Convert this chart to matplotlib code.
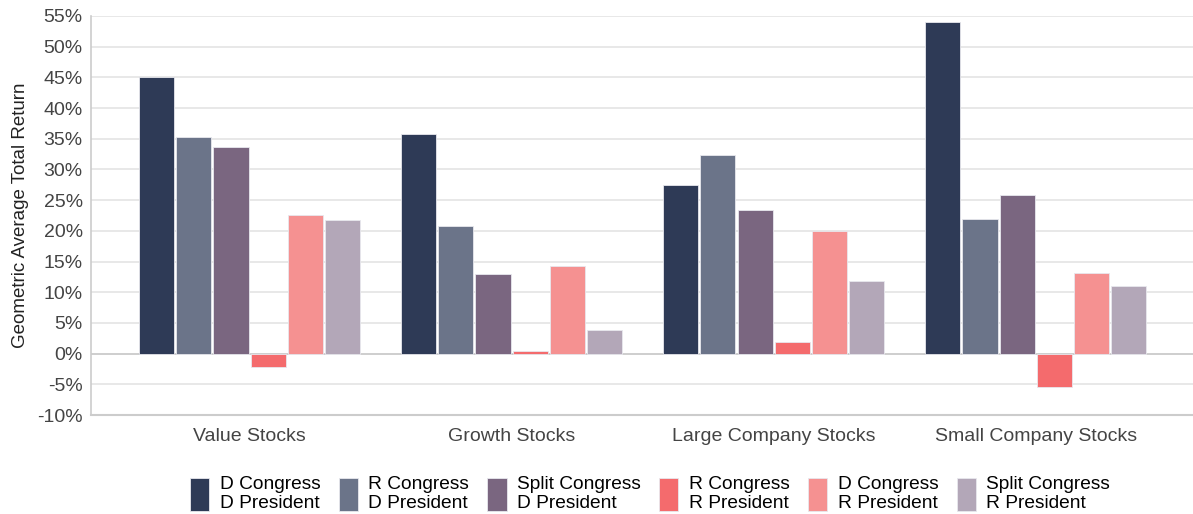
import numpy as np
import matplotlib
matplotlib.use("Agg")
import matplotlib.pyplot as plt
from matplotlib.ticker import FuncFormatter

plt.rcParams['font.family'] = ['Liberation Sans', 'DejaVu Sans']

categories = ["Value Stocks", "Growth Stocks", "Large Company Stocks", "Small Company Stocks"]
series_names = ["D Congress\nD President", "R Congress\nD President", "Split Congress\nD President",
                "R Congress\nR President", "D Congress\nR President", "Split Congress\nR President"]
dd = [45.1, 35.7, 27.4, 54.0]
rd = [35.3, 20.8, 32.3, 21.9]
sd = [33.7, 13.0, 23.4, 25.9]
rr = [-2.1, 0.5, 1.9, -5.5]
dr = [22.6, 14.2, 19.9, 13.1]
sr = [21.8, 3.9, 11.8, 11.0]
series = [dd, rd, sd, rr, dr, sr]
colors = ["#2E3A56", "#6B7489", "#7A6680", "#F46B6D", "#F59191", "#B3A7B8"]

fig = plt.figure(figsize=(11.93, 5.14), dpi=100)
ax = fig.add_axes([0.0763, 0.1926, 0.9237, 0.7763])

x = np.arange(len(categories))
slot = 0.142
width = 0.134
for i, (vals, c, name) in enumerate(zip(series, colors, series_names)):
    ax.bar(x + (i - 2.5) * slot, vals, width, color=c, edgecolor='#e8e8ee', linewidth=0.6,
           label=name, zorder=3)

ax.set_xlim(-0.605, 3.6)
ax.set_ylim(-10, 55)
ax.set_yticks(np.arange(-10, 56, 5))
ax.yaxis.set_major_formatter(FuncFormatter(lambda v, p: f"{v:.0f}%"))
ax.set_xticks(x)
ax.set_xticklabels(categories)
ax.tick_params(axis='both', length=0, labelsize=14, colors='#444444')
ax.tick_params(axis='x', pad=9)
ax.tick_params(axis='y', pad=6)
ax.grid(axis='y', color='#e4e4e4', linewidth=1.2, zorder=0)
ax.axhline(0, color='#cfcfcf', linewidth=1.4, zorder=2)
for s in ['top', 'right']:
    ax.spines[s].set_visible(False)
ax.spines['left'].set_color('#cccccc')
ax.spines['bottom'].set_color('#cccccc')
ax.spines['left'].set_linewidth(1.2)
ax.spines['bottom'].set_linewidth(1.5)
ax.set_ylabel("Geometric Average Total Return", fontsize=13.5, color='#222222', labelpad=6)

fig.legend(loc='lower center', bbox_to_anchor=(0.545, -0.03), ncol=6, frameon=False,
           fontsize=13.8, handlelength=1.0, handleheight=2.3, handletextpad=0.55,
           columnspacing=0.95, labelspacing=0.2)

fig.savefig("out.png", dpi=100)
